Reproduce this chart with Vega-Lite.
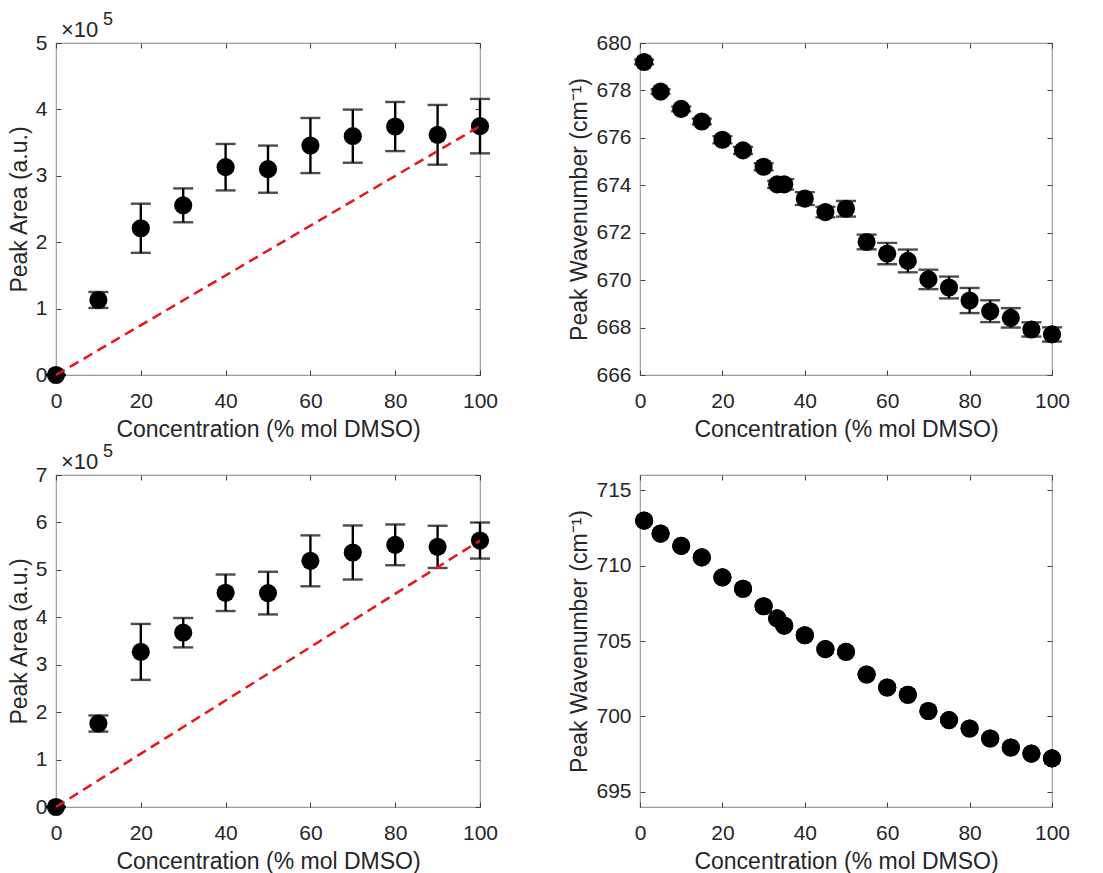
{
  "$schema": "https://vega.github.io/schema/vega-lite/v6.json",
  "background": "white",
  "padding": {"left": 7, "top": 10, "right": 5, "bottom": 5},
  "columns": 2,
  "bounds": "flush",
  "align": "none",
  "spacing": {"column": 160, "row": 100},
  "datasets": {
    "areaA": [
      {"c": 0, "v": 0, "e": 0},
      {"c": 10, "v": 113000, "e": 12000},
      {"c": 20, "v": 221000, "e": 37000},
      {"c": 30, "v": 255500, "e": 25500},
      {"c": 40, "v": 313000, "e": 35000},
      {"c": 50, "v": 310000, "e": 35500},
      {"c": 60, "v": 345600, "e": 41500},
      {"c": 70, "v": 359700, "e": 40000},
      {"c": 80, "v": 374200, "e": 37000},
      {"c": 90, "v": 361700, "e": 45000},
      {"c": 100, "v": 374800, "e": 41000}
    ],
    "lineA": [{"c": 0, "v": 0}, {"c": 100, "v": 374800}],
    "expoA": [{"c": 0, "v": 500000, "base": "×10", "exp": "5"}],
    "areaB": [
      {"c": 0, "v": 0, "e": 0},
      {"c": 10, "v": 176000, "e": 17000},
      {"c": 20, "v": 327000, "e": 59000},
      {"c": 30, "v": 367500, "e": 31000},
      {"c": 40, "v": 451700, "e": 38500},
      {"c": 50, "v": 451000, "e": 45000},
      {"c": 60, "v": 519000, "e": 53700},
      {"c": 70, "v": 536600, "e": 57000},
      {"c": 80, "v": 552700, "e": 43000},
      {"c": 90, "v": 548500, "e": 44500},
      {"c": 100, "v": 561800, "e": 38000}
    ],
    "lineB": [{"c": 0, "v": 0}, {"c": 100, "v": 561800}],
    "expoB": [{"c": 0, "v": 700000, "base": "×10", "exp": "5"}],
    "waveA": [
      {"c": 1, "v": 679.2, "e": 0.1},
      {"c": 5, "v": 677.95, "e": 0.1},
      {"c": 10, "v": 677.22, "e": 0.1},
      {"c": 15, "v": 676.69, "e": 0.12},
      {"c": 20, "v": 675.92, "e": 0.15},
      {"c": 25, "v": 675.47, "e": 0.15},
      {"c": 30, "v": 674.78, "e": 0.15},
      {"c": 33.3, "v": 674.04, "e": 0.15},
      {"c": 35, "v": 674.04, "e": 0.22},
      {"c": 40, "v": 673.44, "e": 0.27},
      {"c": 45, "v": 672.87, "e": 0.22},
      {"c": 50, "v": 673.01, "e": 0.33},
      {"c": 55, "v": 671.61, "e": 0.31},
      {"c": 60, "v": 671.12, "e": 0.45},
      {"c": 65, "v": 670.81, "e": 0.48},
      {"c": 70, "v": 670.03, "e": 0.41},
      {"c": 75, "v": 669.69, "e": 0.46},
      {"c": 80, "v": 669.14, "e": 0.53},
      {"c": 85, "v": 668.69, "e": 0.46},
      {"c": 90, "v": 668.41, "e": 0.41},
      {"c": 95, "v": 667.92, "e": 0.3},
      {"c": 100, "v": 667.71, "e": 0.3}
    ],
    "waveB": [
      {"c": 1, "v": 712.98},
      {"c": 5, "v": 712.12},
      {"c": 10, "v": 711.3},
      {"c": 15, "v": 710.54},
      {"c": 20, "v": 709.22},
      {"c": 25, "v": 708.46},
      {"c": 30, "v": 707.3},
      {"c": 33.3, "v": 706.5},
      {"c": 35, "v": 706.02},
      {"c": 40, "v": 705.38},
      {"c": 45, "v": 704.46},
      {"c": 50, "v": 704.28},
      {"c": 55, "v": 702.78},
      {"c": 60, "v": 701.92},
      {"c": 65, "v": 701.44},
      {"c": 70, "v": 700.36},
      {"c": 75, "v": 699.76},
      {"c": 80, "v": 699.2},
      {"c": 85, "v": 698.54},
      {"c": 90, "v": 697.94},
      {"c": 95, "v": 697.54},
      {"c": 100, "v": 697.22}
    ]
  },
  "concat": [
    {
      "width": 424,
      "height": 332,
      "resolve": {"axis": {"x": "independent", "y": "independent"}},
      "layer": [
        {
          "data": {"name": "areaA"},
          "mark": {"type": "point", "filled": true, "shape": "circle", "size": 330, "color": "black", "opacity": 1},
          "encoding": {
            "x": {"field": "c", "type": "quantitative", "scale": {"domain": [0, 100]}, "axis": {"values": [0, 20, 40, 60, 80, 100], "title": "Concentration (% mol DMSO)"}},
            "y": {"field": "v", "type": "quantitative", "scale": {"domain": [0, 500000]}, "axis": {"values": [0, 100000, 200000, 300000, 400000, 500000], "labelExpr": "format(datum.value / 100000, 'd')", "title": "Peak Area (a.u.)"}}
          }
        },
        {
          "data": {"name": "areaA"},
          "mark": {"type": "errorbar", "ticks": {"size": 20, "thickness": 2.4}, "rule": {"strokeWidth": 2.4}, "thickness": 2.4, "color": "black"},
          "encoding": {
            "x": {"field": "c", "type": "quantitative", "axis": {"orient": "top", "values": [0, 20, 40, 60, 80, 100], "labels": false, "title": null}},
            "y": {"field": "v", "type": "quantitative", "axis": {"orient": "right", "values": [0, 100000, 200000, 300000, 400000, 500000], "labels": false, "title": null}},
            "yError": {"field": "e"}
          }
        },
        {
          "data": {"name": "lineA"},
          "mark": {"type": "line", "color": "#e8161b", "strokeWidth": 2.5, "strokeDash": [10, 6]},
          "encoding": {
            "x": {"field": "c", "type": "quantitative", "axis": null},
            "y": {"field": "v", "type": "quantitative", "axis": null}
          }
        },
        {
          "data": {"name": "expoA"},
          "mark": {"type": "text", "align": "left", "baseline": "alphabetic", "dx": 5, "dy": -6, "fontSize": 22, "color": "#262626"},
          "encoding": {
            "x": {"field": "c", "type": "quantitative", "axis": null},
            "y": {"field": "v", "type": "quantitative", "axis": null},
            "text": {"field": "base"}
          }
        },
        {
          "data": {"name": "expoA"},
          "mark": {"type": "text", "align": "left", "baseline": "alphabetic", "dx": 47, "dy": -18, "fontSize": 18, "color": "#262626"},
          "encoding": {
            "x": {"field": "c", "type": "quantitative", "axis": null},
            "y": {"field": "v", "type": "quantitative", "axis": null},
            "text": {"field": "exp"}
          }
        }
      ]
    },
    {
      "width": 412,
      "height": 332,
      "resolve": {"axis": {"x": "independent", "y": "independent"}},
      "layer": [
        {
          "data": {"name": "waveA"},
          "mark": {"type": "point", "filled": true, "shape": "circle", "size": 330, "color": "black", "opacity": 1},
          "encoding": {
            "x": {"field": "c", "type": "quantitative", "scale": {"domain": [0, 100]}, "axis": {"values": [0, 20, 40, 60, 80, 100], "title": "Concentration (% mol DMSO)"}},
            "y": {"field": "v", "type": "quantitative", "scale": {"domain": [666, 680], "zero": false}, "axis": {"values": [666, 668, 670, 672, 674, 676, 678, 680], "title": "Peak Wavenumber (cm⁻¹)"}}
          }
        },
        {
          "data": {"name": "waveA"},
          "mark": {"type": "errorbar", "ticks": {"size": 20, "thickness": 2.4}, "rule": {"strokeWidth": 2.4}, "thickness": 2.4, "color": "black"},
          "encoding": {
            "x": {"field": "c", "type": "quantitative", "axis": {"orient": "top", "values": [0, 20, 40, 60, 80, 100], "labels": false, "title": null}},
            "y": {"field": "v", "type": "quantitative", "axis": {"orient": "right", "values": [666, 668, 670, 672, 674, 676, 678, 680], "labels": false, "title": null}},
            "yError": {"field": "e"}
          }
        }
      ]
    },
    {
      "width": 424,
      "height": 332,
      "resolve": {"axis": {"x": "independent", "y": "independent"}},
      "layer": [
        {
          "data": {"name": "areaB"},
          "mark": {"type": "point", "filled": true, "shape": "circle", "size": 330, "color": "black", "opacity": 1},
          "encoding": {
            "x": {"field": "c", "type": "quantitative", "scale": {"domain": [0, 100]}, "axis": {"values": [0, 20, 40, 60, 80, 100], "title": "Concentration (% mol DMSO)"}},
            "y": {"field": "v", "type": "quantitative", "scale": {"domain": [0, 700000]}, "axis": {"values": [0, 100000, 200000, 300000, 400000, 500000, 600000, 700000], "labelExpr": "format(datum.value / 100000, 'd')", "title": "Peak Area (a.u.)"}}
          }
        },
        {
          "data": {"name": "areaB"},
          "mark": {"type": "errorbar", "ticks": {"size": 20, "thickness": 2.4}, "rule": {"strokeWidth": 2.4}, "thickness": 2.4, "color": "black"},
          "encoding": {
            "x": {"field": "c", "type": "quantitative", "axis": {"orient": "top", "values": [0, 20, 40, 60, 80, 100], "labels": false, "title": null}},
            "y": {"field": "v", "type": "quantitative", "axis": {"orient": "right", "values": [0, 100000, 200000, 300000, 400000, 500000, 600000, 700000], "labels": false, "title": null}},
            "yError": {"field": "e"}
          }
        },
        {
          "data": {"name": "lineB"},
          "mark": {"type": "line", "color": "#e8161b", "strokeWidth": 2.5, "strokeDash": [10, 6]},
          "encoding": {
            "x": {"field": "c", "type": "quantitative", "axis": null},
            "y": {"field": "v", "type": "quantitative", "axis": null}
          }
        },
        {
          "data": {"name": "expoB"},
          "mark": {"type": "text", "align": "left", "baseline": "alphabetic", "dx": 5, "dy": -6, "fontSize": 22, "color": "#262626"},
          "encoding": {
            "x": {"field": "c", "type": "quantitative", "axis": null},
            "y": {"field": "v", "type": "quantitative", "axis": null},
            "text": {"field": "base"}
          }
        },
        {
          "data": {"name": "expoB"},
          "mark": {"type": "text", "align": "left", "baseline": "alphabetic", "dx": 47, "dy": -18, "fontSize": 18, "color": "#262626"},
          "encoding": {
            "x": {"field": "c", "type": "quantitative", "axis": null},
            "y": {"field": "v", "type": "quantitative", "axis": null},
            "text": {"field": "exp"}
          }
        }
      ]
    },
    {
      "width": 412,
      "height": 332,
      "resolve": {"axis": {"x": "independent", "y": "independent"}},
      "layer": [
        {
          "data": {"name": "waveB"},
          "mark": {"type": "point", "filled": true, "shape": "circle", "size": 330, "color": "black", "opacity": 1},
          "encoding": {
            "x": {"field": "c", "type": "quantitative", "scale": {"domain": [0, 100]}, "axis": {"values": [0, 20, 40, 60, 80, 100], "title": "Concentration (% mol DMSO)"}},
            "y": {"field": "v", "type": "quantitative", "scale": {"domain": [695, 715], "zero": false}, "axis": {"values": [695, 700, 705, 710, 715], "title": "Peak Wavenumber (cm⁻¹)"}}
          }
        },
        {
          "data": {"name": "waveB"},
          "mark": {"type": "point", "filled": true, "shape": "circle", "size": 330, "color": "black", "opacity": 1},
          "encoding": {
            "x": {"field": "c", "type": "quantitative", "axis": {"orient": "top", "values": [0, 20, 40, 60, 80, 100], "labels": false, "title": null}},
            "y": {"field": "v", "type": "quantitative", "axis": {"orient": "right", "values": [695, 700, 705, 710, 715], "labels": false, "title": null}}
          }
        }
      ]
    }
  ],
  "config": {
    "font": "Liberation Sans",
    "view": {"stroke": "#9a9a9a", "strokeWidth": 1.2},
    "axis": {
      "grid": false,
      "domain": false,
      "labelFontSize": 21,
      "labelColor": "#262626",
      "labelFlush": false,
      "labelFont": "Liberation Sans",
      "titleFont": "Liberation Sans",
      "titleFontSize": 23,
      "titleFontWeight": "normal",
      "titleColor": "#262626",
      "tickColor": "#404040",
      "tickSize": -5,
      "tickWidth": 1
    },
    "axisX": {"labelPadding": 20, "titlePadding": 7},
    "axisY": {"labelPadding": 14, "titlePadding": 4}
  }
}
